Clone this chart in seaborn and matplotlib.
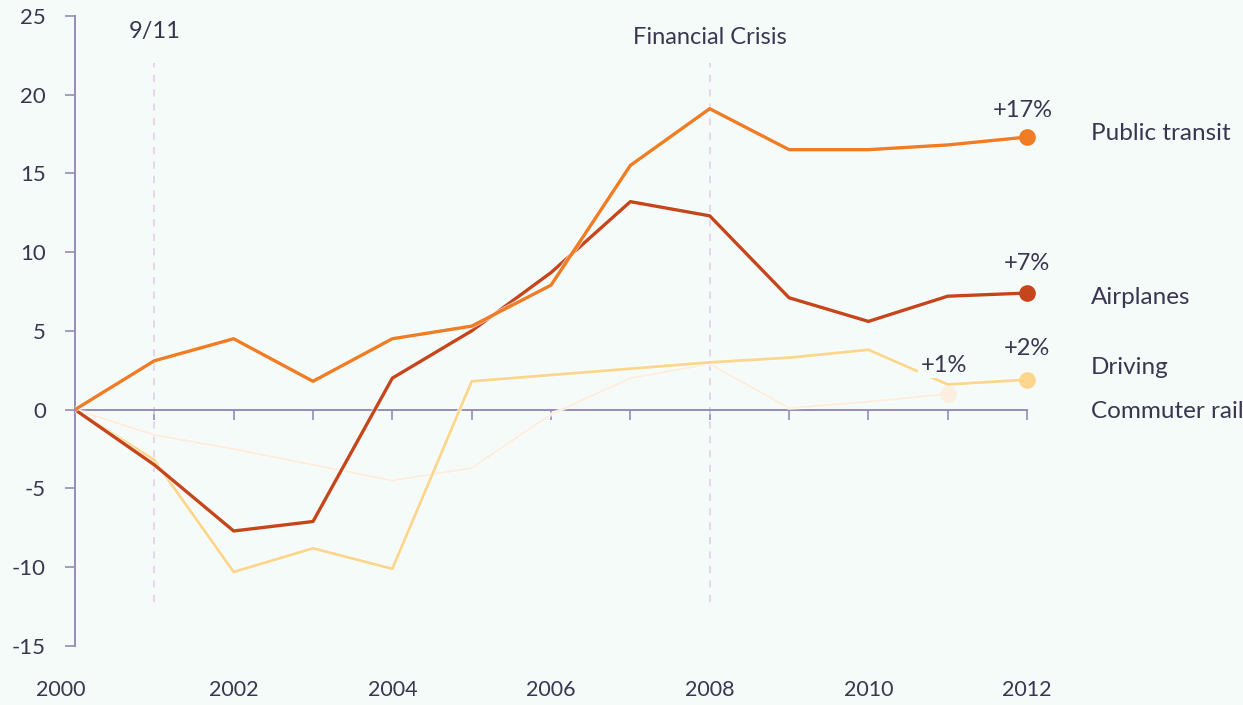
import matplotlib
matplotlib.use("Agg")
import matplotlib.pyplot as plt
import matplotlib.transforms as mtransforms
import matplotlib.patheffects as pe
import pandas as pd
import seaborn as sns

# Percent change in passenger travel since 2000
years = list(range(2000, 2013))
public_transit = [0, 3.1, 4.5, 1.8, 4.5, 5.3, 7.9, 15.5, 19.1, 16.5, 16.5, 16.8, 17.3]
airplanes = [0, -3.5, -7.7, -7.1, 2.0, 5.0, 8.7, 13.2, 12.3, 7.1, 5.6, 7.2, 7.4]
driving = [0, -3.2, -10.3, -8.8, -10.1, 1.8, 2.2, 2.6, 3.0, 3.3, 3.8, 1.6, 1.9]
commuter_years = list(range(2000, 2012))
commuter_rail = [0, -1.6, -2.5, -3.5, -4.5, -3.7, -0.3, 2.0, 2.9, 0.1, 0.5, 1.0]

series_names = ["Public transit", "Airplanes", "Driving", "Commuter rail"]
end_labels = ["+17%", "+7%", "+2%", "+1%"]
events = ["9/11", "Financial Crisis"]
event_years = [2001, 2008]
ytick_values = [-15, -10, -5, 0, 5, 10, 15, 20, 25]
xtick_labels = [2000, 2002, 2004, 2006, 2008, 2010, 2012]

colors = {
    "Public transit": "#f07c24",
    "Airplanes": "#c6461c",
    "Driving": "#fcd68c",
    "Commuter rail": "#fcefe0",
}
widths = {"Public transit": 2.4, "Airplanes": 2.4, "Driving": 2.0, "Commuter rail": 1.6}
bg = "#f4fbf9"
axis_col = "#948cb8"
text_col = "#3b3650"

frames = [
    pd.DataFrame({"year": years, "change": public_transit, "mode": "Public transit"}),
    pd.DataFrame({"year": years, "change": airplanes, "mode": "Airplanes"}),
    pd.DataFrame({"year": years, "change": driving, "mode": "Driving"}),
    pd.DataFrame({"year": commuter_years, "change": commuter_rail, "mode": "Commuter rail"}),
]
df = pd.concat(frames, ignore_index=True)

sns.set_theme(style="white")
plt.rcParams["font.family"] = ["Lato", "DejaVu Sans"]

fig = plt.figure(figsize=(12.43, 7.05), dpi=100, facecolor=bg)
ax = fig.add_axes([0.0603, 0.0837, 0.766, 0.894])
ax.set_facecolor(bg)

# draw faint lines first so the stronger ones sit on top
for name in ["Commuter rail", "Driving", "Airplanes", "Public transit"]:
    sub = df[df["mode"] == name]
    sns.lineplot(data=sub, x="year", y="change", ax=ax, color=colors[name],
                 linewidth=widths[name], legend=False, zorder=3,
                 path_effects=[pe.Stroke(linewidth=widths[name] + 1.4, foreground="white", alpha=0.6),
                               pe.Normal()])
    last = sub.iloc[-1]
    ax.plot(last["year"], last["change"], "o", color=colors[name], markersize=11,
            zorder=4, clip_on=False)

# event markers
for ev, yr in zip(events, event_years):
    ax.vlines(yr, -12.2, 22, colors="#e6d3ea", linestyles=(0, (4, 4)), linewidth=1.3, zorder=1)
ax.text(2001, 24.0, events[0], ha="center", va="center", fontsize=17, color=text_col)
ax.text(2008, 23.6, events[1], ha="center", va="center", fontsize=17, color=text_col)

# end-of-line value labels
ax.text(2011.95, 19.0, end_labels[0], ha="center", va="center", fontsize=17, color=text_col)
ax.text(2012.0, 9.3, end_labels[1], ha="center", va="center", fontsize=17, color=text_col)
ax.text(2012.0, 3.9, end_labels[2], ha="center", va="center", fontsize=17, color=text_col)
ax.text(2010.95, 2.8, end_labels[3], ha="center", va="center", fontsize=17, color=text_col,
        bbox=dict(boxstyle="square,pad=0.1", facecolor=bg, edgecolor="none"), zorder=5)

# series names on the right
name_y = [17.5, 7.1, 2.7, -0.1]
for name, yv in zip(series_names, name_y):
    ax.text(2012.8, yv, name, ha="left", va="center", fontsize=17.5, color=text_col, clip_on=False)

ax.set_xlim(2000, 2012)
ax.set_ylim(-15, 25)
ax.set_xlabel("")
ax.set_ylabel("")

for s in ["top", "right"]:
    ax.spines[s].set_visible(False)
ax.spines["left"].set_color(axis_col)
ax.spines["left"].set_linewidth(1.4)
ax.spines["bottom"].set_position(("data", 0))
ax.spines["bottom"].set_color(axis_col)
ax.spines["bottom"].set_linewidth(1.4)
ax.spines["bottom"].set_zorder(2)

ax.set_yticks(ytick_values)
ax.set_yticklabels([str(v) for v in ytick_values])
ax.tick_params(axis="y", direction="out", length=7, width=1.2, color=axis_col,
               labelsize=16, labelcolor=text_col, pad=14, left=True)
ax.set_xticks(years)
ax.tick_params(axis="x", direction="out", length=7, width=1.2, color=axis_col,
               labelbottom=False, bottom=True)

# year labels sit along the bottom edge
trans = mtransforms.blended_transform_factory(ax.transData, ax.transAxes)
for yr in xtick_labels:
    ax.text(yr - (0.18 if yr == 2000 else 0.0), -0.07, str(yr), transform=trans,
            ha="center", va="center", fontsize=15.5, color=text_col, clip_on=False)

fig.savefig("out.png", dpi=100, facecolor=bg)
